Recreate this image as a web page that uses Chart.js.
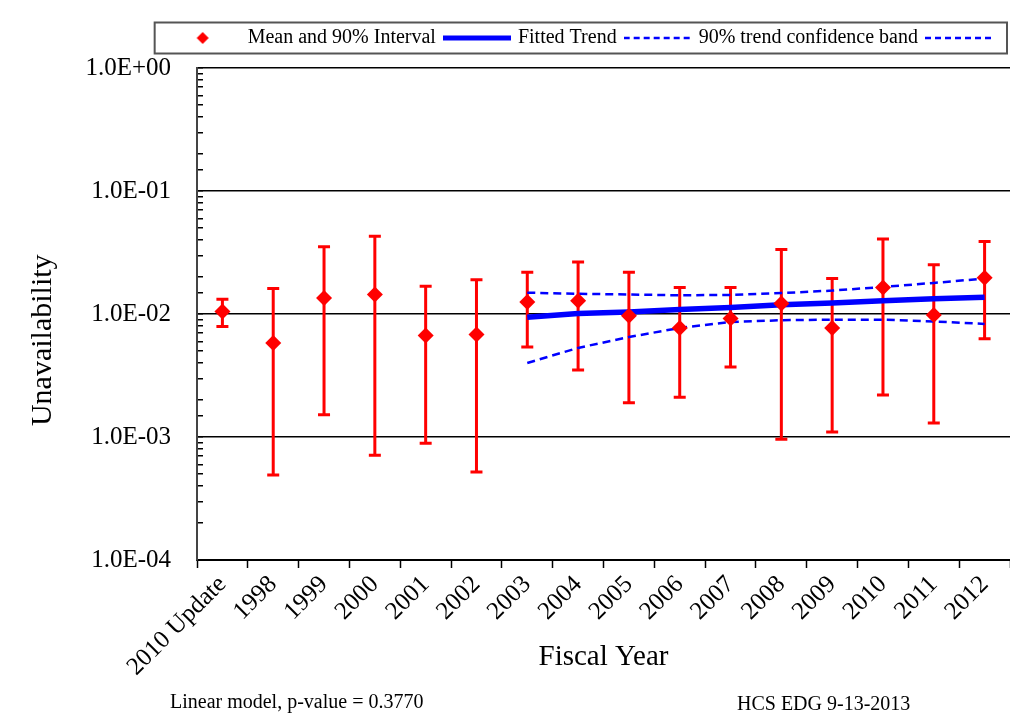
<!DOCTYPE html>
<html>
<head>
<meta charset="utf-8">
<script src="https://cdn.jsdelivr.net/npm/chart.js@4/dist/chart.umd.min.js"></script>
<style>
  body { margin: 0; background: #fff; overflow: hidden; }
  #wrap { width: 1010px; height: 717px; }
</style>
</head>
<body>
<div id="wrap"><canvas id="chart" width="1010" height="717"></canvas></div>
<script>
var categories = ['2010 Update', '1998', '1999', '2000', '2001', '2002', '2003', '2004',
    '2005', '2006', '2007', '2008', '2009', '2010', '2011', '2012'];
var meanVals = [0.0105, 0.0058, 0.0135, 0.0144, 0.0067, 0.0068, 0.0125, 0.0128,
    0.0097, 0.0077, 0.0092, 0.0122, 0.0077, 0.0164, 0.0098, 0.0197];
var lowerVals = [0.0079, 0.00049, 0.00152, 0.00071, 0.00089, 0.00052, 0.0054, 0.0035,
    0.0019, 0.0021, 0.0037, 0.00096, 0.0011, 0.0022, 0.0013, 0.0063];
var upperVals = [0.0132, 0.0161, 0.0352, 0.0428, 0.0168, 0.0190, 0.0218, 0.0265,
    0.0218, 0.0164, 0.0164, 0.0335, 0.0194, 0.0407, 0.0252, 0.0389];
var trendVals = [null, null, null, null, null, null, 0.0094, 0.0101,
    0.0104, 0.0109, 0.0113, 0.0119, 0.0123, 0.0128, 0.0133, 0.0137];
var bandUpper = [null, null, null, null, null, null, 0.0149, 0.0146,
    0.0144, 0.0142, 0.0143, 0.0148, 0.0155, 0.0166, 0.0179, 0.0194];
var bandLower = [null, null, null, null, null, null, 0.0040, 0.0053,
    0.0065, 0.0077, 0.0086, 0.0089, 0.0090, 0.0090, 0.0087, 0.0083];
var yTickDecades = [1e-4, 1e-3, 1e-2, 1e-1, 1];

var serif = '"Liberation Serif", "Times New Roman", serif';
var RED = '#ff0000';
var BLUE = '#0000ff';

function isDecade(v) {
    var e = Math.log10(v);
    return Math.abs(e - Math.round(e)) < 1e-6;
}
function sciLabel(v) {
    var e = Math.round(Math.log10(v));
    var a = Math.abs(e);
    return '1.0E' + (e < 0 ? '-' : '+') + (a < 10 ? '0' : '') + a;
}

// small canvases used as legend symbols
function legendIcon(kind) {
    var c = document.createElement('canvas');
    c.width = 68;
    c.height = 20;
    var g = c.getContext('2d');
    if (kind === 'diamond') {
        g.fillStyle = RED;
        g.beginPath();
        g.moveTo(30, 4); g.lineTo(36, 10); g.lineTo(30, 16); g.lineTo(24, 10);
        g.closePath();
        g.fill();
    } else {
        g.strokeStyle = BLUE;
        g.lineWidth = kind === 'solid' ? 5 : 2.5;
        if (kind === 'dash') g.setLineDash([6, 4]);
        g.beginPath();
        g.moveTo(0, 10); g.lineTo(68, 10);
        g.stroke();
    }
    return c;
}
var legendIcons = [legendIcon('diamond'), legendIcon('solid'), legendIcon('dash'), legendIcon('dash')];

var errorBars = {
    id: 'errorBars',
    beforeDatasetsDraw: function(chart) {
        var ctx = chart.ctx;
        var xs = chart.scales.x, ys = chart.scales.y;
        ctx.save();
        ctx.strokeStyle = RED;
        ctx.lineWidth = 3;
        for (var i = 0; i < categories.length; i++) {
            var x = xs.getPixelForValue(i);
            var yl = ys.getPixelForValue(lowerVals[i]);
            var yh = ys.getPixelForValue(upperVals[i]);
            ctx.beginPath();
            ctx.moveTo(x, yl); ctx.lineTo(x, yh);
            ctx.moveTo(x - 6, yl); ctx.lineTo(x + 6, yl);
            ctx.moveTo(x - 6, yh); ctx.lineTo(x + 6, yh);
            ctx.stroke();
        }
        ctx.restore();
    }
};

var extras = {
    id: 'extras',
    beforeLayout: function(chart) {
        var lg = chart.legend;
        if (lg && !lg._patched) {
            var f = lg.fit;
            lg.fit = function() { f.call(this); this.height = 50; };
            lg._patched = true;
        }
    },
    afterDraw: function(chart) {
        var ctx = chart.ctx;
        var lg = chart.legend;
        ctx.save();
        if (lg && lg.legendHitBoxes && lg.legendHitBoxes.length) {
            var hb = lg.legendHitBoxes;
            var left = hb[0].left - 21;
            var right = Math.min(hb[hb.length - 1].left + 79, chart.width - 3);
            var cy = hb[0].top + hb[0].height / 2;
            ctx.strokeStyle = '#555';
            ctx.lineWidth = 2;
            ctx.strokeRect(left, cy - 15.5, right - left, 31);
        }
        ctx.fillStyle = '#000';
        ctx.font = '20px ' + serif;
        ctx.textBaseline = 'middle';
        ctx.textAlign = 'left';
        ctx.fillText('Linear model, p-value = 0.3770', chart.chartArea.left - 27, 703);
        ctx.fillText('HCS EDG 9-13-2013', chart.chartArea.left + 540, 705);
        ctx.restore();
    }
};

var ctx = document.getElementById('chart').getContext('2d');
var config = {
    type: 'line',
    data: {
        labels: categories,
        datasets: [{
            label: 'Mean and 90% Interval',
            data: meanVals,
            showLine: false,
            pointStyle: 'rectRot',
            pointRadius: 8,
            pointBorderWidth: 0,
            backgroundColor: RED,
            borderColor: RED
        }, {
            label: 'Fitted Trend',
            data: trendVals,
            borderColor: BLUE,
            borderWidth: 5.5,
            pointRadius: 0,
            tension: 0
        }, {
            label: '90% trend confidence band',
            data: bandUpper,
            borderColor: BLUE,
            borderWidth: 2.5,
            borderDash: [8, 5],
            pointRadius: 0,
            tension: 0
        }, {
            label: '',
            data: bandLower,
            borderColor: BLUE,
            borderWidth: 2.5,
            borderDash: [8, 5],
            pointRadius: 0,
            tension: 0
        }]
    },
    options: {
        responsive: false,
        animation: false,
        devicePixelRatio: 1,
        layout: { autoPadding: false, padding: { top: 18, left: 0, right: 0, bottom: 38 } },
        plugins: {
            tooltip: { enabled: false },
            legend: {
                position: 'top',
                align: 'end',
                labels: {
                    color: '#000',
                    font: { family: serif, size: 20 },
                    usePointStyle: true,
                    pointStyleWidth: 62,
                    padding: 10,
                    generateLabels: function(chart) {
                        return chart.data.datasets.map(function(ds, i) {
                            return {
                                text: ds.label,
                                pointStyle: legendIcons[i],
                                fillStyle: 'transparent',
                                strokeStyle: 'transparent',
                                lineWidth: 0,
                                hidden: false,
                                datasetIndex: i,
                                fontColor: '#000'
                            };
                        });
                    }
                }
            }
        },
        scales: {
            x: {
                offset: true,
                afterFit: function(scale) {
                    scale.height = 119;
                    scale.paddingLeft = 0;
                    scale.paddingRight = 0;
                },
                grid: {
                    offset: true,
                    drawOnChartArea: false,
                    tickLength: 8,
                    tickColor: '#000',
                    tickWidth: 1.5
                },
                border: { color: '#000', width: 2 },
                ticks: {
                    color: '#000',
                    font: { family: serif, size: 25 },
                    minRotation: 45,
                    maxRotation: 45,
                    autoSkip: false,
                    padding: 2
                },
                title: {
                    display: true,
                    text: 'Fiscal Year',
                    color: '#000',
                    font: { family: serif, size: 29 },
                    padding: { top: 0, bottom: 4 }
                }
            },
            y: {
                type: 'logarithmic',
                min: yTickDecades[0],
                max: yTickDecades[yTickDecades.length - 1],
                afterFit: function(scale) { scale.width = 197; },
                grid: {
                    color: function(c) { return c.tick && isDecade(c.tick.value) ? '#000' : 'transparent'; },
                    lineWidth: 1.5,
                    tickLength: -6,
                    tickColor: '#000',
                    tickWidth: 1.5
                },
                border: { color: '#444', width: 2 },
                ticks: {
                    color: '#000',
                    font: { family: serif, size: 25 },
                    autoSkip: false,
                    padding: 32,
                    callback: function(v) { return isDecade(v) ? sciLabel(v) : ''; }
                },
                title: {
                    display: true,
                    // trailing spaces shift the rotated title down, as in the original
                    text: 'Unavailability       ',
                    color: '#000',
                    font: { family: serif, size: 30 },
                    padding: { top: 25, bottom: 0 }
                }
            }
        }
    },
    plugins: [errorBars, extras]
};
var myChart = new Chart(ctx, config);
</script>
</body>
</html>
